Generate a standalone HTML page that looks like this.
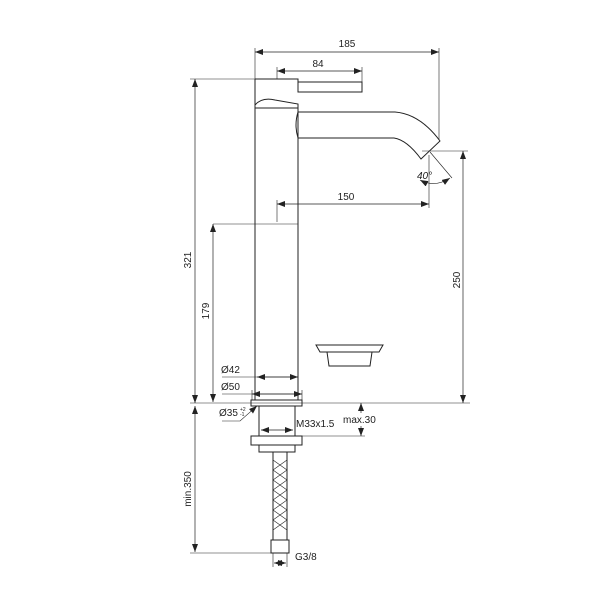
<!DOCTYPE html>
<html><head><style>body{margin:0;background:#fff}svg{display:block}text{font-family:"Liberation Sans",sans-serif;font-size:10px;fill:#222}</style></head><body>
<svg width="603" height="603" viewBox="0 0 603 603" xmlns="http://www.w3.org/2000/svg">
<defs><marker id="a" markerWidth="8" markerHeight="6" refX="8" refY="3" orient="auto-start-reverse" markerUnits="userSpaceOnUse"><path d="M0,0 L8,3 L0,6z" fill="#222"/></marker></defs>
<g stroke="#222" fill="none" stroke-width="1">
<!-- body -->
<line x1="255" y1="79" x2="255" y2="400"/><line x1="298" y1="108" x2="298" y2="400"/>
<path d="M255,79 L298,79 L298,92 L362,92 L362,82 L298,82"/>
<path d="M255,105 Q262,97 275,100 L298,104 L298,108 L255,108"/>
<line x1="298" y1="79" x2="298" y2="92"/>
<!-- spout -->
<path d="M298,112 L395,112 Q420,114 440,141 L421,159 Q407,140 394,138 L298,138 Q294,125 298,112"/>
<!-- base -->
<rect x="251" y="400" width="51" height="6"/>
<rect x="259" y="406" width="36" height="30"/>
<rect x="251" y="436" width="51" height="9"/>
<rect x="259" y="445" width="36" height="7"/>
<rect x="273" y="452" width="14" height="88"/>
<path d="M273,460 L287,470 M273,470 L287,480 M273,480 L287,490 M273,490 L287,500 M273,500 L287,510 M273,510 L287,520 M273,520 L287,530 M287,460 L273,470 M287,470 L273,480 M287,480 L273,490 M287,490 L273,500 M287,500 L273,510 M287,510 L273,520 M287,520 L273,530" stroke-width="0.6"/>
<rect x="271" y="540" width="18" height="13"/>
<!-- aerator -->
<path d="M316,345 L383,345 L379,352 L372,352 L370,366 L329,366 L327,352 L320,352 Z"/>
<line x1="320" y1="352" x2="379" y2="352"/>
<!-- dims -->
<line x1="255" y1="79" x2="255" y2="48" stroke-width=".6"/>
<line x1="439" y1="140" x2="439" y2="48" stroke-width=".6"/>
<line x1="255" y1="52" x2="439" y2="52" marker-start="url(#a)" marker-end="url(#a)" stroke-width=".7"/>
<line x1="277" y1="79" x2="277" y2="67" stroke-width=".6"/>
<line x1="362" y1="82" x2="362" y2="67" stroke-width=".6"/>
<line x1="277" y1="71" x2="362" y2="71" marker-start="url(#a)" marker-end="url(#a)" stroke-width=".7"/>
<line x1="277" y1="204" x2="429" y2="204" marker-start="url(#a)" marker-end="url(#a)" stroke-width=".7"/>
<line x1="277" y1="200" x2="277" y2="222" stroke-width=".6"/>
<line x1="429" y1="155" x2="429" y2="208" stroke-width=".6"/>
<line x1="190" y1="79" x2="255" y2="79" stroke-width=".6"/>
<line x1="195" y1="79" x2="195" y2="403" marker-start="url(#a)" marker-end="url(#a)" stroke-width=".7"/>
<line x1="213" y1="224" x2="298" y2="224" stroke-width=".6"/>
<line x1="213" y1="224" x2="213" y2="402" marker-start="url(#a)" marker-end="url(#a)" stroke-width=".7"/>
<line x1="422" y1="151" x2="468" y2="151" stroke-width=".6"/>
<line x1="463" y1="151" x2="463" y2="403" marker-start="url(#a)" marker-end="url(#a)" stroke-width=".7"/>
<line x1="190" y1="403" x2="470" y2="403" stroke-width=".6"/>
<line x1="430" y1="152" x2="452" y2="178" stroke-width=".6"/>
<path d="M420,180 Q435,188 450,178" stroke-width=".7" marker-start="url(#a)" marker-end="url(#a)"/>
<line x1="222" y1="377" x2="298" y2="377" stroke-width=".6"/>
<line x1="257" y1="377" x2="298" y2="377" marker-start="url(#a)" marker-end="url(#a)" stroke-width=".7"/>
<line x1="222" y1="394" x2="302" y2="394" stroke-width=".6"/>
<line x1="252" y1="394" x2="302" y2="394" marker-start="url(#a)" marker-end="url(#a)" stroke-width=".7"/>
<line x1="252" y1="390" x2="252" y2="400" stroke-width=".6"/><line x1="302" y1="390" x2="302" y2="400" stroke-width=".6"/>
<path d="M222,421 L240,421 L257,406" stroke-width=".6" marker-end="url(#a)"/>
<line x1="261" y1="430" x2="293" y2="430" marker-start="url(#a)" marker-end="url(#a)" stroke-width=".7"/>
<line x1="302" y1="436" x2="365" y2="436" stroke-width=".6"/>
<line x1="361" y1="403" x2="361" y2="413" marker-start="url(#a)" stroke-width=".7"/>
<line x1="361" y1="426" x2="361" y2="436" marker-end="url(#a)" stroke-width=".7"/>
<line x1="195" y1="406" x2="195" y2="552" marker-start="url(#a)" marker-end="url(#a)" stroke-width=".7"/>
<line x1="190" y1="553" x2="271" y2="553" stroke-width=".6"/>
<line x1="273" y1="553" x2="273" y2="567" stroke-width=".6"/><line x1="287" y1="553" x2="287" y2="567" stroke-width=".6"/>
<line x1="274" y1="563" x2="286" y2="563" marker-start="url(#a)" marker-end="url(#a)" stroke-width=".7"/>
</g>
<text x="347" y="47" text-anchor="middle">185</text>
<text x="318" y="67" text-anchor="middle">84</text>
<text x="346" y="200" text-anchor="middle">150</text>
<text x="417" y="179" font-style="italic">40°</text>
<text transform="translate(191,260) rotate(-90)" text-anchor="middle">321</text>
<text transform="translate(209,311) rotate(-90)" text-anchor="middle">179</text>
<text transform="translate(460,280) rotate(-90)" text-anchor="middle">250</text>
<text transform="translate(191,489) rotate(-90)" text-anchor="middle">min.350</text>
<text x="221" y="373">Ø42</text>
<text x="221" y="390">Ø50</text>
<text x="219" y="416">Ø35</text><text x="240" y="411" style="font-size:5px">+2</text><text x="240" y="416" style="font-size:5px">-1</text>
<text x="296" y="427">M33x1.5</text>
<text x="343" y="423">max.30</text>
<text x="295" y="560">G3/8</text>
</svg>
</body></html>
